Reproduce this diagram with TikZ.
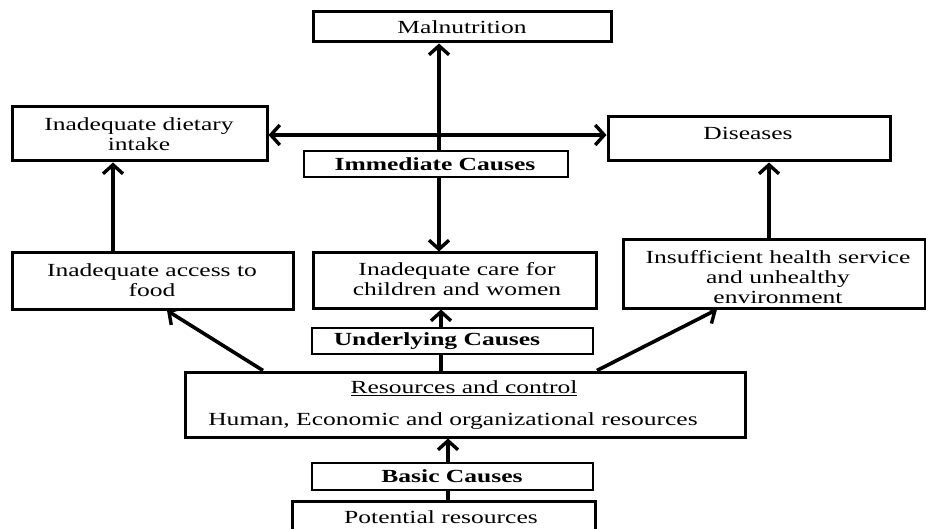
\documentclass[tikz,border=0pt]{standalone}
\usepackage{fontspec}
\setmainfont{Liberation Serif}[FakeStretch=1.38]
\usetikzlibrary{arrows.meta,backgrounds}
\begin{document}
\begin{tikzpicture}[x=1pt,y=-1pt,
  box/.style={draw,line width=3pt,fill=white,inner sep=0pt},
  lbox/.style={draw,line width=1.3pt,fill=white,inner sep=0pt},
  txt/.style={inner sep=0pt,align=center,font=\fontsize{18.5}{20}\selectfont},
  btxt/.style={inner sep=0pt,align=center,font=\fontsize{18.5}{20}\selectfont\bfseries},
  tip/.tip={Straight Barb[length=9pt,width=20pt,line width=3.4pt]},
  conn/.style={line width=3.6pt,-tip},
  conn2/.style={line width=3.6pt,tip-tip}]
\useasboundingbox (0,0) rectangle (926,529);
% boxes
\node[box,minimum width=298pt,minimum height=30pt] (mal) at (462,27) {};
\node[box,minimum width=255pt,minimum height=54pt] (diet) at (139.5,134) {};
\node[box,minimum width=282pt,minimum height=44pt] (dis) at (749,139) {};
\node[lbox,minimum width=264pt,minimum height=26pt] (imm) at (436,164) {};
\node[box,minimum width=281pt,minimum height=56pt] (acc) at (152.5,281) {};
\node[box,minimum width=283pt,minimum height=55pt] (care) at (454.5,280.5) {};
\node[box,minimum width=302pt,minimum height=68pt] (ins) at (774,274) {};
\node[lbox,minimum width=281pt,minimum height=26pt] (und) at (452.5,341) {};
\node[box,minimum width=560pt,minimum height=65pt] (res) at (465,404.5) {};
\node[lbox,minimum width=281pt,minimum height=27pt] (bas) at (452.5,476.5) {};
\node[box,minimum width=303pt,minimum height=38pt] (pot) at (443.5,520) {};
% texts
\node[txt] (tmal) at (462,27) {Malnutrition};
\node[txt] (tdiet) at (139,134) {Inadequate dietary\\intake};
\node[txt] (tdis) at (748,133) {Diseases};
\node[btxt] (timm) at (435,164) {Immediate Causes};
\node[txt] (tacc) at (152,280) {Inadequate access to\\food};
\node[txt] (tcare) at (457,279.5) {Inadequate care for\\children and women};
\node[txt] (tins) at (778,277) {Insufficient health service\\and unhealthy\\environment};
\node[btxt] (tund) at (437,341) {Underlying Causes};
\node[txt] (tres1) at (464,388) {\underline{Resources and control}};
\node[txt] (tres2) at (453,421) {Human, Economic and organizational resources};
\node[btxt] (tbas) at (452,476.5) {Basic Causes};
\node[txt] (tpot) at (441,517) {Potential resources};
% connector guide coordinates
\coordinate (vx) at (439,0);
\coordinate (hy) at (0,135);
\coordinate (ax) at (113,0);
\coordinate (dx) at (769,0);
\coordinate (cx) at (441,0);
\coordinate (bx) at (448,0);
\coordinate (dl) at (263,0);
\coordinate (dle) at (167,0);
\coordinate (dr) at (597,0);
\coordinate (dre) at (717,0);
\begin{pgfonlayer}{background}
\draw[conn2] (care.north -| vx) -- (mal.south -| vx);
\draw[conn2] (diet.east |- hy) -- (dis.west |- hy);
\draw[conn] (acc.north -| ax) -- (diet.south -| ax);
\draw[conn] (ins.north -| dx) -- (dis.south -| dx);
\draw[conn] (res.north -| cx) -- (care.south -| cx);
\draw[conn] (pot.north -| bx) -- (res.south -| bx);
\draw[conn] (res.north -| dl) -- (acc.south -| dle);
\draw[conn] (res.north -| dr) -- (ins.south -| dre);
\end{pgfonlayer}
\end{tikzpicture}
\end{document}
